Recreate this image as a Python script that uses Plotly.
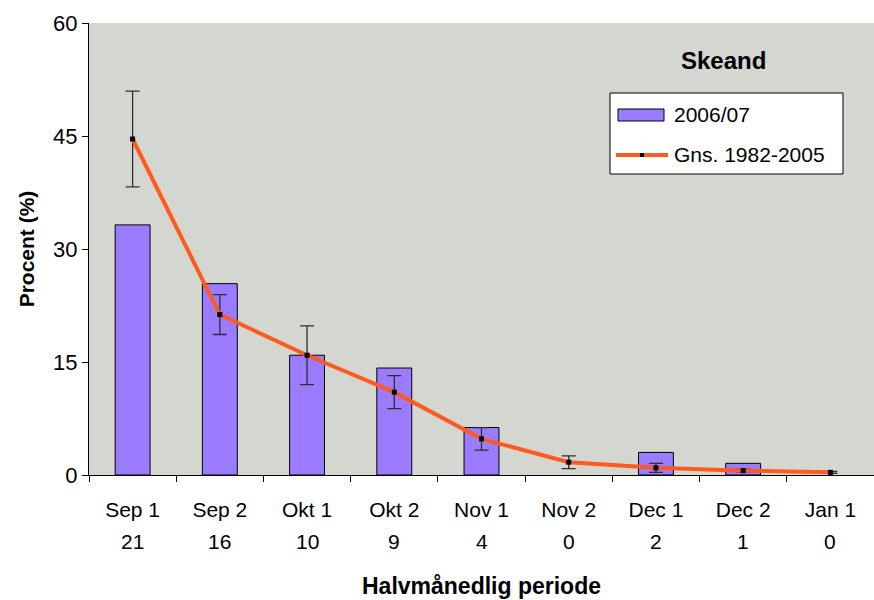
import plotly.graph_objects as go

categories = ["Sep 1", "Sep 2", "Okt 1", "Okt 2", "Nov 1", "Nov 2", "Dec 1", "Dec 2", "Jan 1"]
counts = ["21", "16", "10", "9", "4", "0", "2", "1", "0"]
season_2006 = [33.2, 25.4, 15.9, 14.2, 6.3, 0.0, 3.0, 1.55, 0.0]
mean_1982_2005 = [44.6, 21.3, 15.9, 11.0, 4.8, 1.7, 0.95, 0.57, 0.35]
mean_err = [6.35, 2.65, 3.9, 2.2, 1.5, 0.85, 0.6, 0.2, 0.12]
name_bar = "2006/07"
name_line = "Gns. 1982-2005"

BAR_COLOR = "#9B7BFF"
LINE_COLOR = "#FF5A1F"

fig = go.Figure()
fig.add_trace(go.Bar(
    x=categories, y=season_2006, name=name_bar,
    marker=dict(color=BAR_COLOR,
                line=dict(color="black", width=[1 if v > 0 else 0 for v in season_2006])),
    width=0.4, showlegend=False,
))
fig.add_trace(go.Scatter(
    x=categories, y=mean_1982_2005, name=name_line,
    mode="lines+markers",
    line=dict(color=LINE_COLOR, width=4),
    marker=dict(color="black", size=5, symbol="square"),
    error_y=dict(type="data", array=mean_err, visible=True, color="#2E2E2E", thickness=1.3, width=7),
    showlegend=False,
))

# second row of category labels (counts)
for c, n in zip(categories, counts):
    fig.add_annotation(x=c, y=0, xref="x", yref="paper", yshift=-66, yanchor="middle",
                       text=n, showarrow=False, font=dict(size=21, color="black"))

# chart title inside plot
fig.add_annotation(x=0.808, y=0.918, xref="paper", yref="paper", xanchor="center", yanchor="middle",
                   text="<b>Skeand</b>", showarrow=False, font=dict(size=24, color="black"))

# custom legend (box, swatches, labels)
shapes = [
    dict(type="rect", xref="paper", yref="paper", x0=0.6637, x1=0.9605, y0=0.6659, y1=0.8451,
         fillcolor="white", line=dict(color="black", width=1), layer="above"),
    dict(type="rect", xref="paper", yref="paper", x0=0.6739, x1=0.7325, y0=0.7832, y1=0.8097,
         fillcolor=BAR_COLOR, line=dict(color="black", width=1), layer="above"),
    dict(type="line", xref="paper", yref="paper", x0=0.6713, x1=0.7376, y0=0.708, y1=0.708,
         line=dict(color=LINE_COLOR, width=4), layer="above"),
    dict(type="rect", xref="paper", yref="paper", x0=0.7019, x1=0.7070, y0=0.7035, y1=0.7124,
         fillcolor="black", line=dict(width=0), layer="above"),
]
fig.add_annotation(x=0.743, y=0.7965, xref="paper", yref="paper", xanchor="left", yanchor="middle",
                   text=name_bar, showarrow=False, font=dict(size=21, color="black"))
fig.add_annotation(x=0.743, y=0.708, xref="paper", yref="paper", xanchor="left", yanchor="middle",
                   text=name_line, showarrow=False, font=dict(size=21, color="black"))

fig.update_layout(
    width=874, height=600,
    margin=dict(l=89, r=0, t=23, b=125),
    paper_bgcolor="white", plot_bgcolor="#D4D6D0",
    font=dict(family="Liberation Sans, Arial, sans-serif", color="black"),
    showlegend=False,
    shapes=shapes,
    bargap=0.6,
)
fig.update_xaxes(
    showline=True, linecolor="black", linewidth=1, showgrid=False,
    ticks="outside", ticklen=6, tickcolor="black", tickson="boundaries",
    tickfont=dict(size=21), ticklabelstandoff=16,
    title=dict(text="<b>Halvmånedlig periode</b>", font=dict(size=23), standoff=57),
)
fig.update_yaxes(
    range=[0, 60], dtick=15, showline=True, linecolor="black", linewidth=1,
    showgrid=False, zeroline=False, ticks="outside", ticklen=6, tickcolor="black",
    tickfont=dict(size=22),
    title=dict(text="<b>Procent (%)</b>", font=dict(size=21), standoff=12),
)

fig.write_html("out.html", config={"responsive": False, "displayModeBar": False},
               post_script="document.body.style.margin='0';document.body.style.overflow='hidden';")
